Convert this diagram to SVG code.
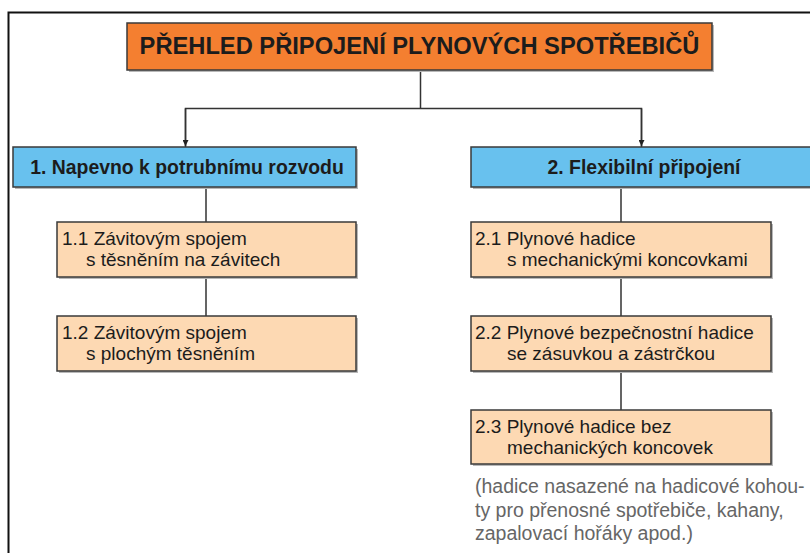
<svg xmlns="http://www.w3.org/2000/svg" width="810" height="553" viewBox="0 0 810 553">
<style>
.box{stroke:#3a3a3a;stroke-width:1.5}
.sh{fill:#b8b8b8}
.title{fill:#f47f30}
.blue{fill:#68c1ee}
.peach{fill:#fdd9b3}
.t{font-family:"Liberation Sans",Arial,sans-serif;fill:#1c1c1c}
.tb{font-weight:bold}
.it{font-size:19px}
.note{font-family:"Liberation Sans",Arial,sans-serif;font-size:19.5px;fill:#666}
.c{fill:none;stroke:#333;stroke-width:1.5}
</style>
<defs>
<marker id="ar" viewBox="0 0 10 10" refX="10" refY="5" markerWidth="6" markerHeight="6" orient="auto" markerUnits="userSpaceOnUse">
<path d="M0,0 L10,5 L0,10 z" fill="#222"/>
</marker>
</defs>
<rect width="810" height="553" fill="#fff"/>
<path d="M8.5,553 V12.5 H810" fill="none" stroke="#111" stroke-width="2"/>
<g id="connectors">
<path class="c" d="M420.5,70 V108.5"/>
<path class="c" d="M185.5,147 V108.5 H641.5 V147" />
<path class="c" d="M185.5,108.5 V146" marker-end="url(#ar)"/>
<path class="c" d="M641.5,108.5 V146" marker-end="url(#ar)"/>
<path class="c" d="M206,187 V222 M206,277 V316"/>
<path class="c" d="M621,187 V222 M621,277 V316 M621,371 V410"/>
</g>
<g id="title">
<rect class="sh" x="129" y="25" width="585" height="47"/>
<rect class="box title" x="127" y="23" width="585" height="47"/>
<text class="t tb" x="419.5" y="54" font-size="23.7" text-anchor="middle">PŘEHLED PŘIPOJENÍ PLYNOVÝCH SPOTŘEBIČŮ</text>
</g>
<g id="n1">
<rect class="sh" x="15" y="149" width="343" height="40"/>
<rect class="box blue" x="13" y="147" width="343" height="40"/>
<text class="t tb" x="187" y="174" font-size="19.4" text-anchor="middle">1. Napevno k potrubnímu rozvodu</text>
</g>
<g id="n2">
<rect class="sh" x="473" y="149" width="343" height="40"/>
<rect class="box blue" x="471" y="147" width="343" height="40"/>
<text class="t tb" x="644" y="174" font-size="19.4" text-anchor="middle">2. Flexibilní připojení</text>
</g>
<g id="n11">
<rect class="sh" x="59" y="224" width="299" height="55"/>
<rect class="box peach" x="57" y="222" width="299" height="55"/>
<text class="t it" x="62" y="245">1.1 Závitovým spojem</text>
<text class="t it" x="86" y="266">s těsněním na závitech</text>
</g>
<g id="n12">
<rect class="sh" x="59" y="318" width="299" height="55"/>
<rect class="box peach" x="57" y="316" width="299" height="55"/>
<text class="t it" x="62" y="339">1.2 Závitovým spojem</text>
<text class="t it" x="86" y="360">s plochým těsněním</text>
</g>
<g id="n21">
<rect class="sh" x="473" y="224" width="300" height="55"/>
<rect class="box peach" x="471" y="222" width="300" height="55"/>
<text class="t it" x="475" y="245">2.1 Plynové hadice</text>
<text class="t it" x="507" y="266">s mechanickými koncovkami</text>
</g>
<g id="n22">
<rect class="sh" x="473" y="318" width="300" height="55"/>
<rect class="box peach" x="471" y="316" width="300" height="55"/>
<text class="t it" x="475" y="339">2.2 Plynové bezpečnostní hadice</text>
<text class="t it" x="507" y="360">se zásuvkou a zástrčkou</text>
</g>
<g id="n23">
<rect class="sh" x="473" y="412" width="300" height="54"/>
<rect class="box peach" x="471" y="410" width="300" height="54"/>
<text class="t it" x="475" y="433">2.3 Plynové hadice bez</text>
<text class="t it" x="507" y="454">mechanických koncovek</text>
</g>
<g id="note">
<text class="note" x="475" y="493">(hadice nasazené na hadicové kohou-</text>
<text class="note" x="475" y="517">ty pro přenosné spotřebiče, kahany,</text>
<text class="note" x="475" y="540">zapalovací hořáky apod.)</text>
</g>
</svg>
